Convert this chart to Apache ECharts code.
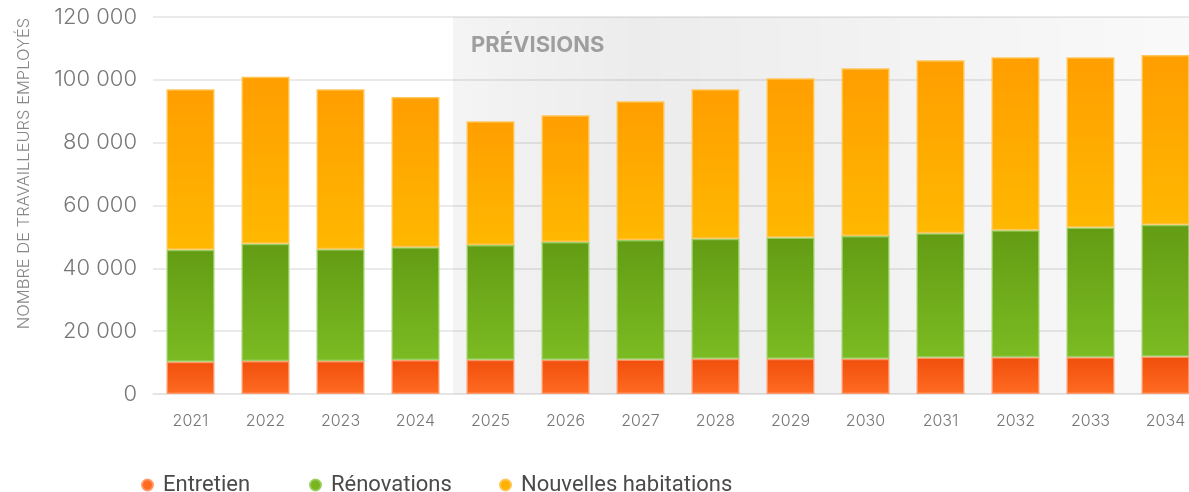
<!DOCTYPE html>
<html>
<head>
<meta charset="utf-8">
<title>Travailleurs employés</title>
<script src="https://cdn.jsdelivr.net/npm/echarts@6/dist/echarts.min.js"></script>
<style>
  html, body { margin: 0; padding: 0; background: #fff; }
  #chart { width: 1189px; height: 492px; }
</style>
</head>
<body>
<div id="chart"></div>
<script>
// données
const years = ['2021', '2022', '2023', '2024', '2025', '2026', '2027', '2028', '2029', '2030', '2031', '2032', '2033', '2034'];
const entretien = [10300, 10500, 10500, 10800, 10900, 10900, 11000, 11200, 11200, 11200, 11600, 11700, 11700, 11900];
const renovations = [35600, 37300, 35600, 35900, 36500, 37500, 38000, 38200, 38600, 39100, 39600, 40400, 41300, 42000];
const nouvelles = [51100, 53200, 50900, 47800, 39400, 40300, 44200, 47600, 50700, 53400, 55000, 55100, 54200, 54000];
const forecastStart = '2025';
const forecastEnd = '2034';
const yTicks = [0, 20000, 40000, 60000, 80000, 100000, 120000];

const chart = echarts.init(document.getElementById('chart'));

function grad(top, bottom) {
  return new echarts.graphic.LinearGradient(0, 0, 0, 1, [
    { offset: 0, color: top },
    { offset: 1, color: bottom }
  ]);
}

function fmt(v) {
  return String(v).replace(/\B(?=(\d{3})+(?!\d))/g, ' ');
}

const barBase = {
  type: 'bar',
  stack: 'total',
  barWidth: 48,
  emphasis: { disabled: true }
};

// une légende par série pour caler chaque pastille
function legendAt(left, name, color) {
  return {
    left: left,
    top: 469,
    icon: 'circle',
    itemWidth: 11,
    itemHeight: 11,
    itemGap: 0,
    textStyle: { fontFamily: 'Roboto', fontSize: 22, color: '#4a4a4a', padding: [0, 0, 0, 5] },
    data: [{ name: name, itemStyle: { color: color } }]
  };
}

chart.setOption({
  animation: false,
  grid: { left: 153, width: 1050, top: 17, bottom: 98, outerBoundsMode: 'none' },
  legend: [
    legendAt(136, 'Entretien', '#ff6a21'),
    legendAt(304, 'Rénovations', '#7ab51f'),
    legendAt(494, 'Nouvelles habitations', '#ffb300')
  ],
  xAxis: {
    type: 'category',
    data: years,
    axisTick: { show: false },
    axisLine: { lineStyle: { color: '#e3e3e3', width: 1.5 } },
    axisLabel: { fontFamily: 'Inter', fontWeight: 300, fontSize: 16, color: '#777', margin: 19 }
  },
  yAxis: {
    type: 'value',
    min: yTicks[0],
    max: yTicks[yTicks.length - 1],
    interval: yTicks[1] - yTicks[0],
    name: 'NOMBRE DE TRAVAILLEURS EMPLOYÉS',
    nameLocation: 'middle',
    nameGap: 120,
    nameTextStyle: { fontFamily: 'Inter', fontWeight: 300, fontSize: 16.5, color: '#888', padding: [0, 0, 0, 64] },
    axisLabel: { fontFamily: 'Inter', fontWeight: 300, fontSize: 22, color: '#777', margin: 16, formatter: fmt },
    splitLine: { lineStyle: { color: '#e3e3e3', width: 1.5 } }
  },
  series: [
    Object.assign({}, barBase, {
      name: 'Entretien',
      data: entretien,
      itemStyle: { color: grad('#f04f0c', '#ff6b22'), borderColor: 'rgba(255,150,100,0.9)', borderWidth: 1.5 },
      markArea: {
        silent: true,
        itemStyle: {
          color: new echarts.graphic.LinearGradient(0, 0, 1, 0, [
            { offset: 0, color: 'rgba(0,0,0,0.045)' },
            { offset: 0.25, color: 'rgba(0,0,0,0.075)' },
            { offset: 1, color: 'rgba(0,0,0,0.02)' }
          ])
        },
        label: {
          show: true,
          position: 'insideTopLeft',
          distance: 0,
          padding: [17, 0, 0, 18],
          fontFamily: 'Inter',
          fontWeight: 'bold',
          fontSize: 22,
          color: '#9e9e9e'
        },
        data: [[{ name: 'PRÉVISIONS', xAxis: forecastStart }, { xAxis: forecastEnd }]]
      }
    }),
    Object.assign({}, barBase, {
      name: 'Rénovations',
      data: renovations,
      itemStyle: { color: grad('#639c14', '#7bbb22'), borderColor: 'rgba(150,205,90,0.9)', borderWidth: 1.5 }
    }),
    Object.assign({}, barBase, {
      name: 'Nouvelles habitations',
      data: nouvelles,
      itemStyle: { color: grad('#ff9e00', '#ffb800'), borderColor: 'rgba(255,195,80,0.95)', borderWidth: 1.5 }
    })
  ]
});
</script>
</body>
</html>
